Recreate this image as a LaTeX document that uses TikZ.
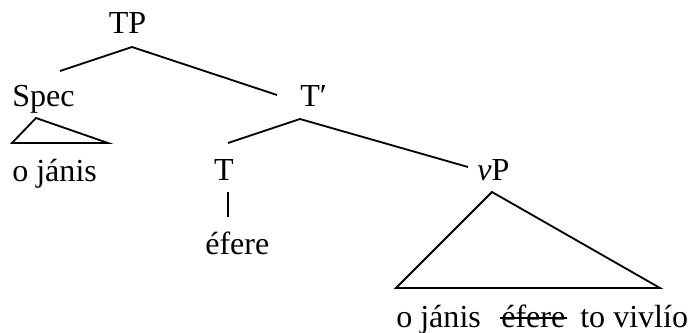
\documentclass[tikz,border=0pt]{standalone}
\usepackage{fontspec}
\setmainfont{Liberation Serif}
\usepackage{tikz}
\usetikzlibrary{calc, positioning}

\tikzset{
    lbl/.style={font=\fontsize{22.8}{27}\selectfont, inner sep=0pt, anchor=base},
    lblw/.style={lbl, anchor=base west},
    branch/.style={line width=1.3pt}
}

\begin{document}
\begin{tikzpicture}[x=0.025cm, y=-0.025cm]
                \useasboundingbox (0,0) rectangle (688,333);
                
                % 1. Labels
                \node[lbl]  (TP)    at (127.5,34) {TP};
                \node[lblw] (Spec)  at (12,107)   {Spec};
                \node[lblw] (jan)   at (12,182)   {o jánis};
                \node[lblw] (Tbar)  at (300,107)  {T′};
                \node[lbl]  (T)     at (224,181)  {T};
                \node[lblw] (efere) at (205,255)  {éfere};
                \node[lblw] (vP)    at (477,181)  {\textit{v}P};
                \node[lblw] (subj)  at (396,327)  {o jánis};
                \node[lblw] (copy)  at (501,327)  {éfere};
                \node[lblw] (obj)   at (580,327)  {to vivlío};
                
                % 2. Branch points
                \coordinate (TP-foot)   at (132,47);
                \coordinate (Spec-top)  at (60,71);
                \coordinate (Tbar-west) at (277,95);
                \coordinate (Tbar-foot) at (300,119);
                \coordinate (T-top)     at (228,143);
                \coordinate (vP-west)   at (468,167);
                \coordinate (T-foot)    at (228,192);
                \coordinate (efere-top) at (228,217);
                
                % 3. Branches
                \draw[branch] (Spec-top) -- (TP-foot) -- (Tbar-west);
                \draw[branch] (T-top) -- (Tbar-foot) -- (vP-west);
                \draw[branch] (T-foot) -- (efere-top);
                
                % 4. Triangles
                \draw[branch] (36,118) -- (12,143) -- (108,143) -- cycle;
                \draw[branch] (492,192) -- (396,288) -- (660,288) -- cycle;
                
                % 5. Struck-out copy
                \draw[line width=1.2pt] ($(copy.base west)+(-1,-9)$) -- ($(copy.base east)+(1,-9)$);
            \end{tikzpicture}
\end{document}
